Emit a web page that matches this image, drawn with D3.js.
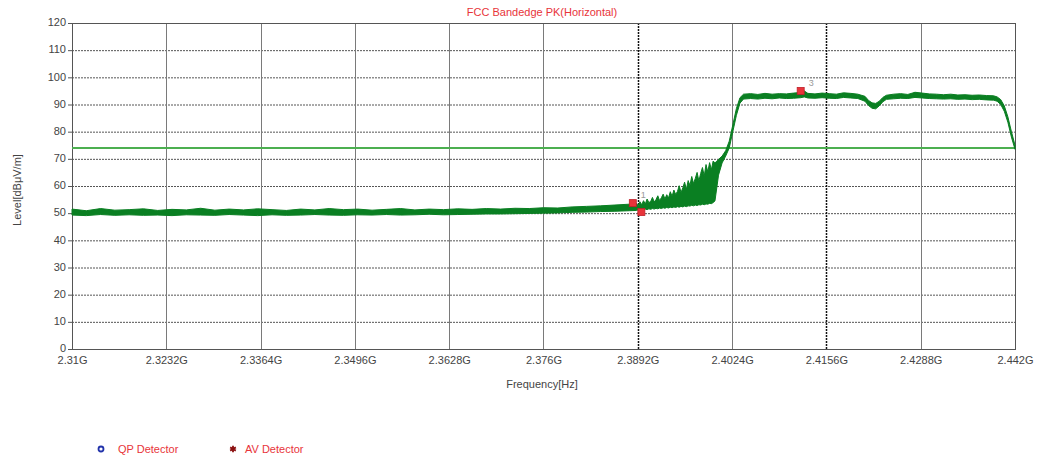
<!DOCTYPE html>
<html><head><meta charset="utf-8">
<script src="https://cdn.jsdelivr.net/npm/d3@7"></script>
<style>
body{margin:0;background:#fff;}
svg text{font-family:"Liberation Sans",Arial,sans-serif;}
</style></head>
<body><svg id="c" width="1038" height="463"></svg>
<script>
// ---- data (GHz, dBuV/m) ----
const xTicks = [2.31,2.3232,2.3364,2.3496,2.3628,2.376,2.3892,2.4024,2.4156,2.4288,2.442];
const xTickLabels = ["2.31G","2.3232G","2.3364G","2.3496G","2.3628G","2.376G","2.3892G","2.4024G","2.4156G","2.4288G","2.442G"];
const yTicks = [0,10,20,30,40,50,60,70,80,90,100,110,120];
const limitLevel = 74;
const freq = [2.310,2.312,2.314,2.316,2.318,2.320,2.322,2.324,2.326,2.328,2.330,2.332,2.334,2.336,2.338,2.340,2.342,2.344,2.346,2.348,2.350,2.352,2.354,2.356,2.358,2.360,2.362,2.364,2.366,2.368,2.370,2.372,2.374,2.376,2.378,2.380,2.382,2.384,2.386,2.388,
 2.38900,2.38925,2.38950,2.38975,2.39000,2.39025,2.39050,2.39075,2.39100,2.39125,2.39150,2.39175,2.39200,2.39225,2.39250,2.39275,2.39300,2.39325,2.39350,2.39375,2.39400,2.39425,2.39450,2.39475,2.39500,2.39525,2.39550,2.39575,2.39600,2.39625,2.39650,2.39675,2.39700,2.39725,2.39750,2.39775,2.39800,2.39825,2.39850,2.39875,2.39900,2.39925,2.39950,2.39975,2.40000,
 2.4005,2.4010,2.4015,2.4020,2.4025,2.4030,2.4035,2.4040,2.4050,2.4060,2.4070,2.4080,2.4090,2.4100,2.4110,2.4120,2.4125,2.4130,2.4140,2.4150,2.4160,2.4170,2.4180,2.4190,2.4200,2.4210,2.4215,2.4220,2.4225,2.4230,2.4235,2.4240,2.4250,2.4260,2.4270,2.4280,2.4290,2.4300,2.4310,2.4320,2.4330,2.4340,2.4350,2.4360,2.4370,2.4380,2.4390,2.4395,2.4400,2.4405,2.4410,2.4415,2.4420];
const levelHigh = [51.5,50.9,51.7,51.1,51.3,51.6,51.0,51.4,51.2,51.8,51.1,51.5,51.2,51.6,51.3,51.0,51.5,51.2,51.7,51.3,51.5,51.1,51.4,51.7,51.2,51.5,51.3,51.6,51.4,51.7,51.5,51.8,51.7,52.0,51.9,52.3,52.5,52.7,53.0,53.3,
 53.6,52.8,54.2,53.1,54.6,53.4,55.2,53.9,54.3,55.8,54.1,55.0,56.4,54.6,55.7,57.0,55.2,56.8,55.6,57.9,56.2,58.5,56.9,58.0,60.1,57.6,59.3,61.4,58.8,62.0,60.2,63.5,60.9,62.8,65.0,61.8,64.6,66.8,63.7,67.9,65.2,68.6,66.0,69.2,68.5,
 69.8,71.0,73.0,76.5,82.5,88.5,92.5,93.8,94.0,93.7,94.1,93.8,94.0,93.9,94.2,94.4,95.0,94.1,93.9,94.2,94.0,93.8,94.3,94.1,93.8,93.0,91.5,90.6,90.4,91.2,92.6,93.4,93.8,94.0,93.7,94.5,94.2,93.9,93.8,93.6,93.8,93.5,93.6,93.4,93.5,93.3,93.2,92.8,91.8,89.5,85.5,80.0,75.0];
const levelLow = [49.3,49.1,49.5,49.2,49.4,49.2,49.3,49.1,49.4,49.3,49.2,49.5,49.3,49.1,49.4,49.2,49.3,49.5,49.3,49.2,49.4,49.3,49.5,49.3,49.4,49.6,49.4,49.5,49.6,49.7,49.7,49.8,49.9,50.0,50.1,50.3,50.4,50.6,50.7,50.9,
 51.0,51.3,51.1,51.4,51.2,51.5,51.3,51.6,51.4,51.7,51.5,51.8,51.6,51.9,51.7,52.0,51.8,52.1,51.9,52.2,52.0,52.3,52.1,52.4,52.2,52.5,52.3,52.6,52.4,52.7,52.6,52.9,52.7,53.0,52.8,53.1,53.0,53.3,53.1,53.4,53.3,53.6,53.5,53.9,54.5,
 64.0,68.5,71.0,74.0,80.0,86.0,90.5,92.0,92.2,92.0,92.3,92.1,92.4,92.2,92.3,92.5,92.8,92.4,92.3,92.5,92.3,92.2,92.6,92.4,92.2,91.2,89.6,88.6,88.4,89.5,91.0,91.9,92.1,92.3,92.2,92.6,92.4,92.2,92.1,92.0,92.1,91.9,92.0,91.8,91.9,91.7,91.6,91.2,90.0,87.5,83.5,78.0,73.5];
const markerFreq = [2.3885,2.3897,2.4120];
const markerLevel = [53.7,50.4,95.0];
const markerLabel = ["1","2","3"];
const markerLines = [2.3892,2.4156];
const legendLabels = ["QP Detector","AV Detector"];

// ---- layout ----
const L=72,R=1015,T=23,B=349;
const svg=d3.select("#c");
const x=d3.scaleLinear().domain([2.31,2.442]).range([L,R]);
const y=d3.scaleLinear().domain([0,120]).range([B,T]);

// horizontal grid (dotted)
svg.append("g").selectAll("line").data(yTicks.filter(v=>v>0&&v<120)).join("line")
 .attr("x1",L).attr("x2",R).attr("y1",d=>y(d)+0.5).attr("y2",d=>y(d)+0.5)
 .attr("stroke","#555").attr("stroke-width",1).attr("stroke-dasharray","2,1");
// vertical grid (solid)
svg.append("g").selectAll("line").data(xTicks.slice(1,-1).filter(v=>!markerLines.includes(v))).join("line")
 .attr("x1",d=>Math.round(x(d))+0.5).attr("x2",d=>Math.round(x(d))+0.5).attr("y1",T).attr("y2",B)
 .attr("stroke","#7a7a7a").attr("stroke-width",1);
// marker dotted verticals
svg.append("g").selectAll("line").data(markerLines).join("line")
 .attr("x1",d=>Math.round(x(d))+0.5).attr("x2",d=>Math.round(x(d))+0.5).attr("y1",T).attr("y2",B)
 .attr("stroke","#111").attr("stroke-width",1.5).attr("stroke-dasharray","2,1");

// frame
svg.append("rect").attr("x",L+0.5).attr("y",T+0.5).attr("width",R-L).attr("height",B-T)
 .attr("fill","none").attr("stroke","#555").attr("stroke-width",1);

// axes text
const yAxis=d3.axisLeft(y).tickValues(yTicks).tickSize(4).tickPadding(2);
const gy=svg.append("g").attr("transform",`translate(${L},0)`).call(yAxis);
gy.select(".domain").remove();
gy.selectAll("line").attr("stroke","#555");
gy.selectAll("text").attr("font-size",11).attr("fill","#444").attr("dy","0.25em").attr("font-family","Liberation Sans, Arial, sans-serif");
const xAxis=d3.axisBottom(x).tickValues(xTicks).tickFormat((d,i)=>xTickLabels[i]).tickSize(0).tickPadding(7);
const gx=svg.append("g").attr("transform",`translate(0,${B})`).call(xAxis);
gx.select(".domain").remove();
gx.selectAll("text").attr("font-size",11).attr("fill","#444").attr("font-family","Liberation Sans, Arial, sans-serif");

// limit line
svg.append("line").attr("x1",L).attr("x2",R).attr("y1",y(limitLevel)).attr("y2",y(limitLevel))
 .attr("stroke","#4caf50").attr("stroke-width",2);

// marker labels (drawn under the trace)
const mk=markerFreq.map((f,i)=>({f,v:markerLevel[i],t:markerLabel[i]}));
svg.append("g").selectAll("text").data(mk).join("text")
 .attr("x",d=>x(d.f)+8).attr("y",d=>y(d.v)-5).text(d=>d.t)
 .attr("font-size",9).attr("fill","#999");

// trace
const pts=freq.map((f,i)=>({f,hi:levelHigh[i],lo:levelLow[i]}));
svg.append("path").datum(pts)
 .attr("d",d3.area().x(d=>x(d.f)).y0(d=>y(d.lo)).y1(d=>y(d.hi)))
 .attr("fill","#0a7f22").attr("stroke","#0a7f22").attr("stroke-width",1).attr("stroke-linejoin","round");

// markers
svg.append("g").selectAll("rect").data(mk).join("rect")
 .attr("x",d=>x(d.f)-3.5).attr("y",d=>y(d.v)-3.5).attr("width",7).attr("height",7)
 .attr("fill","#e8343a").attr("stroke","#c0202a").attr("stroke-width",0.8);

// titles
svg.append("text").attr("x",542).attr("y",16).attr("text-anchor","middle")
 .attr("font-size",11).attr("fill","#e8343a").text("FCC Bandedge PK(Horizontal)");
svg.append("text").attr("x",542).attr("y",388).attr("text-anchor","middle")
 .attr("font-size",11).attr("fill","#444").text("Frequency[Hz]");
svg.append("text").attr("transform","translate(21,190) rotate(-90)").attr("text-anchor","middle")
 .attr("font-size",11).attr("fill","#444").text("Level[dBμV/m]");

// legend
svg.append("circle").attr("cx",101).attr("cy",449).attr("r",2.5).attr("fill","none").attr("stroke","#2233aa").attr("stroke-width",1.8);
svg.append("text").attr("x",118).attr("y",453).attr("font-size",11).attr("fill","#e8343a").text(legendLabels[0]);
svg.append("path").attr("d",d3.symbol(d3.symbolAsterisk,30)()).attr("transform","translate(233,449)")
 .attr("stroke","#8b1010").attr("stroke-width",1.8).attr("fill","none");
svg.append("text").attr("x",245).attr("y",453).attr("font-size",11).attr("fill","#e8343a").text(legendLabels[1]);
</script></body></html>
